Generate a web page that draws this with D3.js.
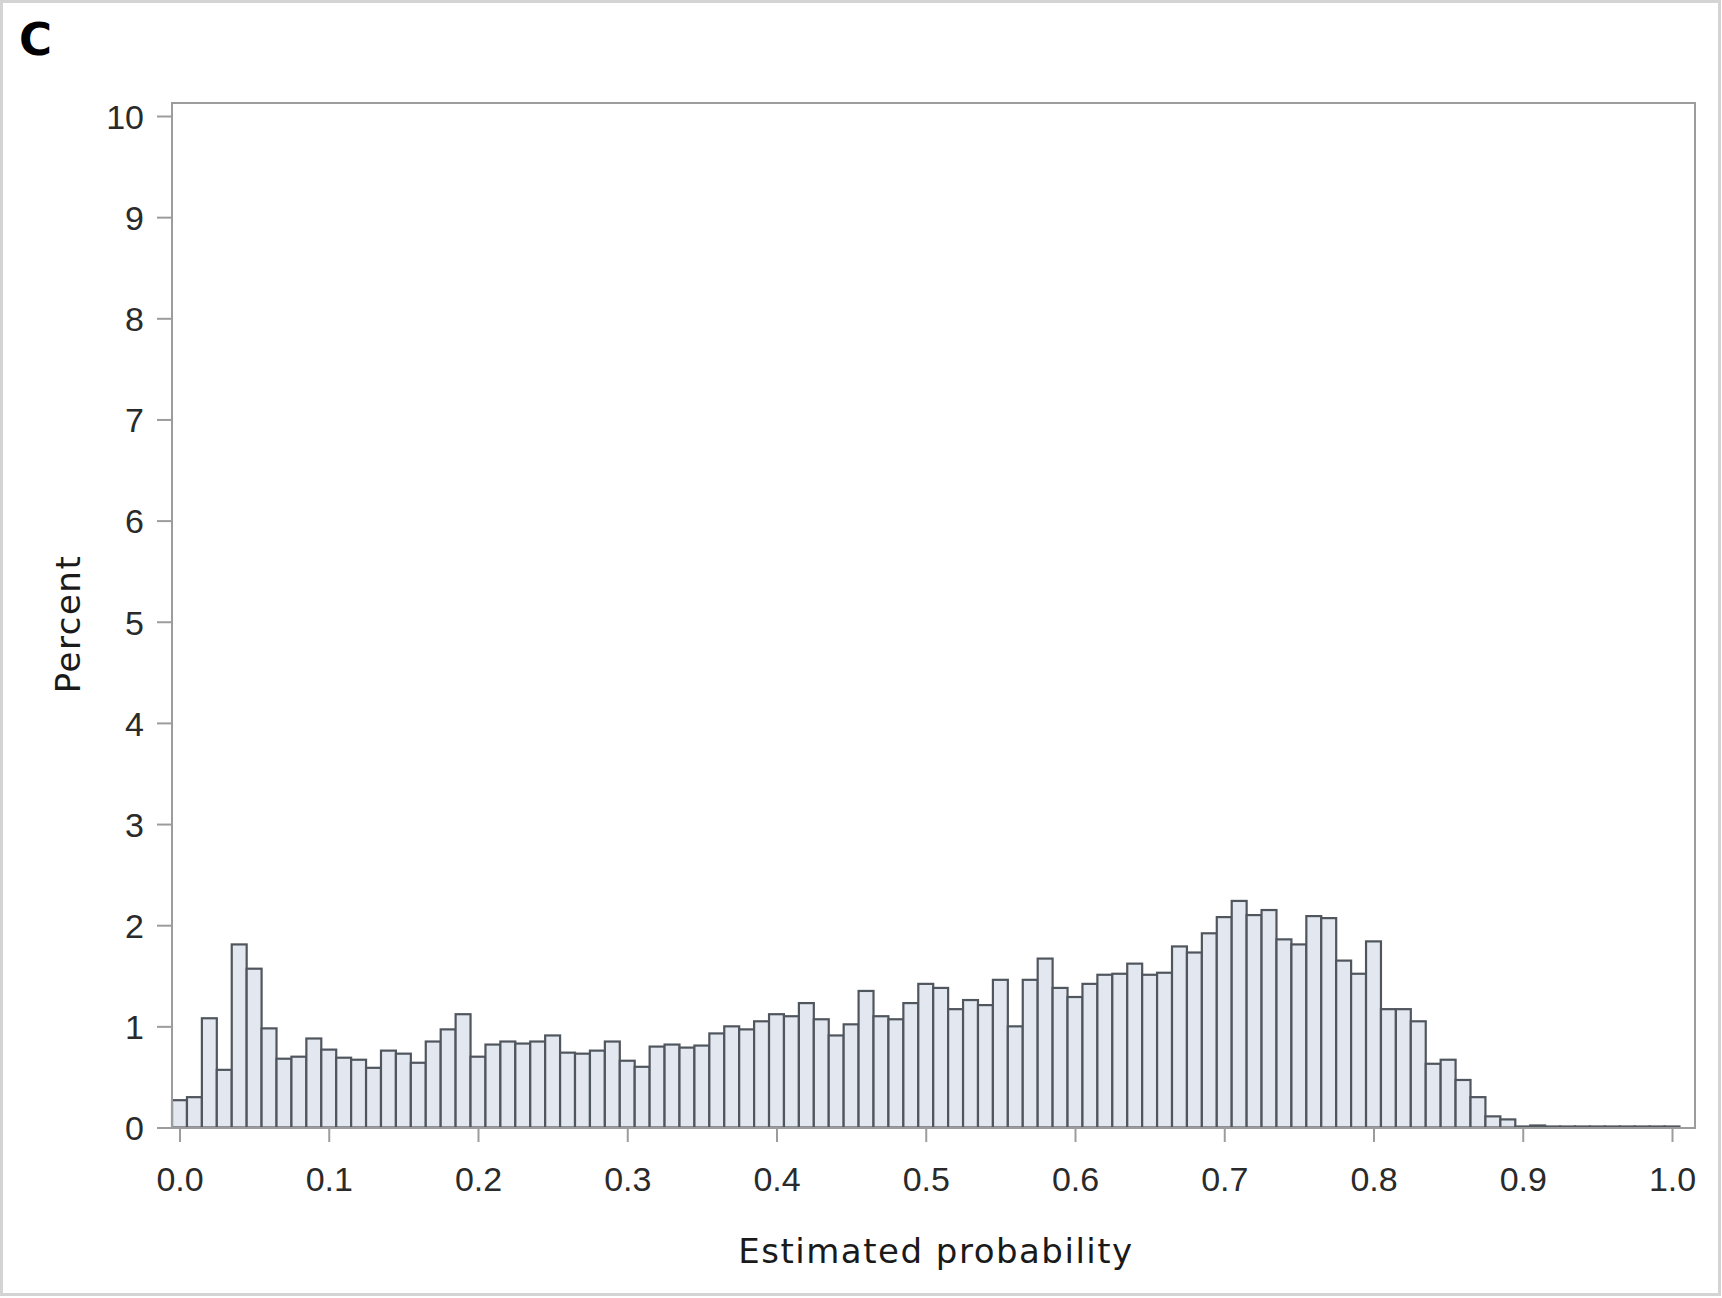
<!DOCTYPE html>
<html>
<head>
<meta charset="utf-8"/>
<title>Estimated probability histogram</title>
<script src="https://d3js.org/d3.v7.min.js" charset="utf-8"></script>
<style>
	body { margin: 0; background: #fff; }
	svg { display: block; }
</style>
</head>
<body>
	<svg width="1722" height="1298"></svg>
	<script>
		// bin midpoints 0.00 .. 1.00, width 0.01
		var midpoints = d3.range(0, 101).map(function(i) { return i / 100; });
		var percents = [
			0.27, 0.30, 1.08, 0.57, 1.81, 1.57, 0.98, 0.68, 0.70, 0.88,
			0.77, 0.69, 0.67, 0.59, 0.76, 0.73, 0.64, 0.85, 0.97, 1.12,
			0.70, 0.82, 0.85, 0.83, 0.85, 0.91, 0.74, 0.73, 0.76, 0.85,
			0.66, 0.60, 0.80, 0.82, 0.79, 0.81, 0.93, 1.00, 0.97, 1.05,
			1.12, 1.10, 1.23, 1.07, 0.91, 1.02, 1.35, 1.10, 1.07, 1.23,
			1.42, 1.38, 1.17, 1.26, 1.21, 1.46, 1.00, 1.46, 1.67, 1.38,
			1.29, 1.42, 1.51, 1.52, 1.62, 1.51, 1.53, 1.79, 1.73, 1.92,
			2.08, 2.24, 2.10, 2.15, 1.86, 1.81, 2.09, 2.07, 1.65, 1.52,
			1.84, 1.17, 1.17, 1.05, 0.63, 0.67, 0.47, 0.30, 0.11, 0.08,
			0.01, 0.02, 0.01, 0.01, 0.01, 0.01, 0.01, 0.01, 0.01, 0.01,
			0.01
		];
		var xTicks = [0, 0.1, 0.2, 0.3, 0.4, 0.5, 0.6, 0.7, 0.8, 0.9, 1.0];
		var yTicks = [0, 1, 2, 3, 4, 5, 6, 7, 8, 9, 10];

		var data = midpoints.map(function(m, i) { return {mid: m, pct: percents[i]}; });

		var frame = {left: 172, right: 1695, top: 103, bottom: 1128};

		var svg = d3.select("svg");

		// light outer border of the panel
		svg.append("rect")
			.attr("x", 1.5).attr("y", 1.5)
			.attr("width", 1718).attr("height", 1293)
			.attr("fill", "#fff")
			.attr("stroke", "#d4d4d4")
			.attr("stroke-width", 3);

		var x = d3.scaleLinear().domain([0, 1]).range([179.5, 1672]);
		var y = d3.scaleLinear().domain([0, 10]).range([1127.5, 116]);

		var g = svg.append("g");

		g.selectAll(".bar")
			.data(data)
			.enter().append("rect")
			.attr("class", "bar")
			.attr("x", function(d) { return x(d.mid - 0.005); })
			.attr("width", function(d) { return x(d.mid + 0.005) - x(d.mid - 0.005); })
			.attr("y", function(d) { return y(d.pct); })
			.attr("height", function(d) { return y(0) - y(d.pct); })
			.attr("fill", "#e3e7ef")
			.attr("stroke", "#50565e")
			.attr("stroke-width", 2.2);

		// plot frame
		g.append("rect")
			.attr("x", frame.left).attr("y", frame.top)
			.attr("width", frame.right - frame.left)
			.attr("height", frame.bottom - frame.top)
			.attr("fill", "none")
			.attr("stroke", "#9c9c9c")
			.attr("stroke-width", 2);

		var xAxis = g.append("g")
			.attr("transform", "translate(0," + frame.bottom + ")")
			.call(d3.axisBottom(x).tickValues(xTicks).tickFormat(d3.format(".1f")).tickSize(14).tickPadding(25));

		var yAxis = g.append("g")
			.attr("transform", "translate(" + frame.left + ",0)")
			.call(d3.axisLeft(y).tickValues(yTicks).tickSize(15).tickPadding(13));

		[xAxis, yAxis].forEach(function(a) {
			a.select(".domain").remove();
			a.selectAll("line").attr("stroke", "#9c9c9c").attr("stroke-width", 2);
			a.selectAll("text")
				.attr("fill", "#2a2a2a")
				.style("font-family", "'Liberation Sans', Arial, sans-serif")
				.style("font-size", "34px");
		});
		yAxis.selectAll("text").attr("dy", "0.36em");

		svg.append("text")
			.attr("x", 936).attr("y", 1263)
			.attr("text-anchor", "middle")
			.attr("fill", "#1a1a1a")
			.style("font-family", "'DejaVu Sans', Verdana, sans-serif")
			.style("font-size", "34px")
			.style("letter-spacing", "1.5px")
			.text("Estimated probability");

		svg.append("text")
			.attr("transform", "translate(80,624) rotate(-90)")
			.attr("text-anchor", "middle")
			.attr("fill", "#1a1a1a")
			.style("font-family", "'DejaVu Sans', Verdana, sans-serif")
			.style("font-size", "34px")
			.style("letter-spacing", "1.5px")
			.text("Percent");

		svg.append("text")
			.attr("x", 19).attr("y", 55)
			.attr("fill", "#000")
			.style("font-family", "'DejaVu Sans', Verdana, sans-serif")
			.style("font-weight", "bold")
			.style("font-size", "45px")
			.text("C");
	</script>
</body>
</html>
